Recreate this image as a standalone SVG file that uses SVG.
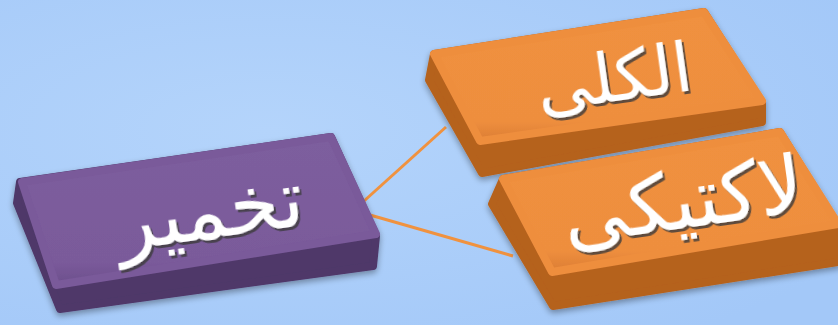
<svg xmlns="http://www.w3.org/2000/svg" width="838" height="325" viewBox="0 0 838 325">
<defs>
<radialGradient id="bg" cx="0.32" cy="0.4" r="0.8">
<stop offset="0" stop-color="#B4D4FB"/>
<stop offset="1" stop-color="#A3C8F8"/>
</radialGradient>
<linearGradient id="pTop" x1="0" y1="0" x2="0" y2="1">
<stop offset="0" stop-color="#7D5E9E"/>
<stop offset="0.85" stop-color="#7A5A9A"/>
<stop offset="1" stop-color="#6C4E8C"/>
</linearGradient>
<linearGradient id="oTop" x1="0" y1="0" x2="0" y2="1">
<stop offset="0" stop-color="#F0913F"/>
<stop offset="0.85" stop-color="#EE8E3E"/>
<stop offset="1" stop-color="#DB7D33"/>
</linearGradient>
<filter id="sh" x="-10%" y="-10%" width="130%" height="140%">
<feGaussianBlur in="SourceAlpha" stdDeviation="3"/>
<feOffset dx="0" dy="3" result="b"/>
<feComponentTransfer><feFuncA type="linear" slope="0.35"/></feComponentTransfer>
<feMerge><feMergeNode/><feMergeNode in="SourceGraphic"/></feMerge>
</filter>
<filter id="tsh" x="-10%" y="-10%" width="130%" height="140%">
<feOffset in="SourceAlpha" dx="1.5" dy="2.5" result="o"/>
<feFlood flood-color="#3A3A3A" flood-opacity="0.8"/>
<feComposite in2="o" operator="in"/>
<feMerge><feMergeNode/><feMergeNode in="SourceGraphic"/></feMerge>
</filter>
</defs>
<style>
.side{stroke-linejoin:round;stroke-width:8}
.top{stroke-linejoin:round;stroke-width:8}
.lbl{font-family:"DejaVu Sans","Noto Sans",sans-serif;fill:#FFFFFF;text-anchor:middle;filter:url(#tsh)}
.conn{stroke:#F0923F;stroke-width:3;fill:none}
</style>
<rect width="838" height="325" fill="url(#bg)"/>
<g id="connectors">
<line class="conn" x1="364" y1="201" x2="446" y2="127"/>
<line class="conn" x1="370" y1="215" x2="513" y2="256"/>
</g>
<g id="node-takhmir" filter="url(#sh)">
<polygon class="side" points="20,182 331,137 376,236 373,266 60,309 17,203" fill="#4F3869" stroke="#4F3869"/>
<polygon class="top" points="22,182 331,137 376,234 56,285" fill="url(#pTop)" stroke="#7A5A9A"/>
<text class="lbl" font-size="80" x="210" y="238" transform="rotate(-8 210 215)">تخمیر</text>
</g>
<g id="node-alkali" filter="url(#sh)">
<polygon class="side" points="434,54 704,12 762,103 762,122 482,173 429,80" fill="#B5621F" stroke="#B5621F"/>
<polygon class="top" points="434,54 704,12 762,101 480,141" fill="url(#oTop)" stroke="#EE8E3E"/>
<text class="lbl" font-size="68" x="614" y="101" transform="rotate(-8 614 78)">الکلی</text>
</g>
<g id="node-lactiki" filter="url(#sh)">
<polygon class="side" points="503,179 780,132 838,226 838,262 553,306 492,204" fill="#B5621F" stroke="#B5621F"/>
<polygon class="top" points="503,179 780,132 838,224 552,272" fill="url(#oTop)" stroke="#EE8E3E"/>
<text class="lbl" font-size="80" x="683" y="228" transform="rotate(-8 683 202)">لاکتیکی</text>
</g>
</svg>
